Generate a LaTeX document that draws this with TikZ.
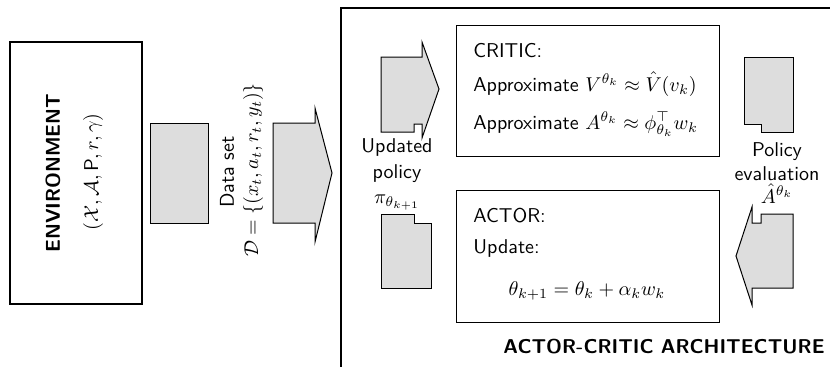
\documentclass[tikz,border=0pt]{standalone}
\usepackage{amsmath}
\definecolor{shade}{RGB}{221,221,221}
\newcommand{\pxw}{830}
\newcommand{\pxh}{366}

\begin{document}
\begin{tikzpicture}[x=0.5pt, y=-0.5pt, font=\sffamily,
  heavy/.style={draw, line width=1pt},
  panel/.style={draw, line width=0.5pt},
  flap/.style={draw, line width=0.5pt, fill=shade}]
\clip (0,0) rectangle (\pxw,\pxh);

% Environment
\draw[heavy] (9.5,42) rectangle (142,304);
\node[rotate=90, font=\sffamily\bfseries] (env) at (53,173) {ENVIRONMENT};
\node[rotate=90] (envtuple) at (93,172) {$(\mathcal{X},\mathcal{A},\mathsf{P},r,\gamma)$};

% Data set
\draw[flap] (150,123) rectangle (208,223);
\draw[flap] (273,123) -- (315,123) -- (315,108) -- (332,173) -- (315,242) -- (315,223) -- (273,223) -- cycle;
\node[rotate=90] (dslabel) at (227,172) {Data set};
\node[rotate=90] (dsset) at (253,170) {$\mathcal{D}=\{(x_t,a_t,r_t,y_t)\}$};

% Actor-critic frame
\draw[heavy] (341,8) rectangle (880,420);
\node[anchor=base east, inner sep=0pt, font=\sffamily\bfseries] (title) at (825,353) {ACTOR-CRITIC ARCHITECTURE};

\draw[panel] (456,25) rectangle (719,156);
\draw[panel] (456,190) rectangle (719,322);

\foreach \y/\txt/\nm in {57/{CRITIC:}/c1, 91/{Approximate $V^{\theta_k}\approx\hat{V}(v_k)$}/c2,
  129/{Approximate $A^{\theta_k}\approx\phi_{\theta_k}^{\top}w_k$}/c3,
  222/{ACTOR:}/a1, 253/{Update:}/a2} {
\node[anchor=base west, inner sep=0pt] (\nm) at (473,\y) {\txt};
}
\node[anchor=base, inner sep=0pt] (upd) at (587,295) {$\theta_{k+1}=\theta_k+\alpha_k w_k$};

% Flaps around the panels
\draw[flap] (381,57) -- (422,57) -- (422,42) -- (439,89) -- (422,138) -- (422,124) -- (414,124) -- (414,132) -- (381,132) -- cycle;
\draw[flap] (381,214) -- (414,214) -- (414,223) -- (431,223) -- (431,288) -- (381,288) -- cycle;
\draw[flap] (744,57) -- (793,57) -- (793,132) -- (761,132) -- (761,124) -- (744,124) -- cycle;
\draw[flap] (793,214) -- (761,214) -- (761,223) -- (752,223) -- (752,207) -- (736,256) -- (752,305) -- (752,288) -- (793,288) -- cycle;

\foreach \x/\y/\txt/\nm in {397/152/Updated/l1, 397/178/policy/l2, 397/203/{$\pi_{\theta_{k+1}}$}/l3,
  777/156/Policy/r1, 777/180/evaluation/r2, 777/203/{$\hat{A}^{\theta_k}$}/r3} {
\node[anchor=base, inner sep=0pt] (\nm) at (\x,\y) {\txt};
}

\end{tikzpicture}
\end{document}
